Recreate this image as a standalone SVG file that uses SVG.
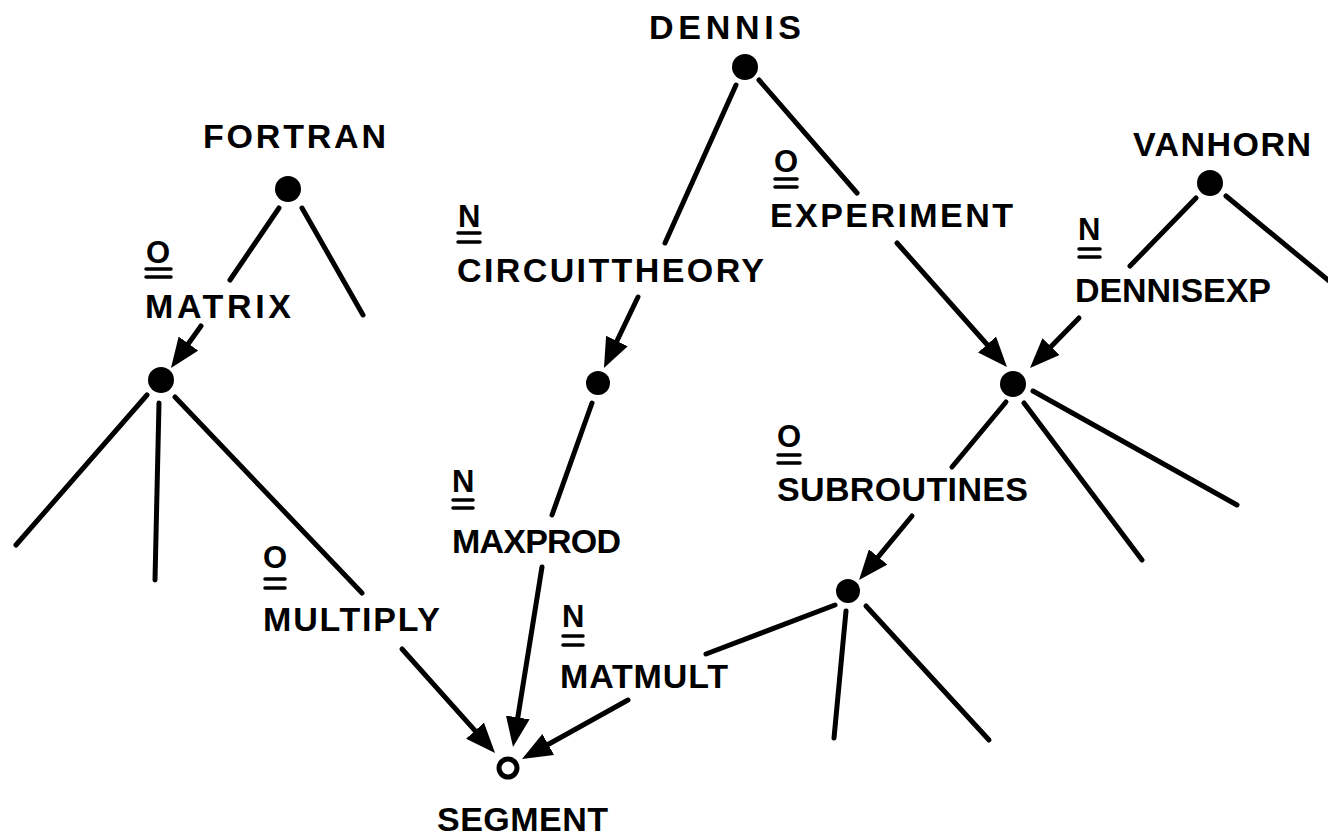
<svg xmlns="http://www.w3.org/2000/svg" width="1328" height="838" viewBox="0 0 1328 838">
<style>
.bg{fill:#ffffff}
.lbl{font-family:"Liberation Sans",Arial,sans-serif;font-weight:bold;font-size:34px;fill:#000}
.tag{font-family:"Liberation Sans",Arial,sans-serif;font-weight:bold;font-size:31px;fill:#000}
.dot{fill:#000}
.hollow{fill:none;stroke:#000;stroke-width:5}
.ln{stroke:#000;stroke-width:5;stroke-linecap:round;fill:none}
.arr{stroke:#000;stroke-width:5;stroke-linecap:round;fill:none;marker-end:url(#ah)}
.ul{stroke:#000;stroke-width:3.5;stroke-linecap:round}
</style>
<defs>
<marker id="ah" viewBox="0 0 30 24" refX="10" refY="12" markerWidth="30" markerHeight="24" markerUnits="userSpaceOnUse" orient="auto">
<path d="M0,0 L30,12 L0,24 z" fill="#000"/>
</marker>
</defs>
<rect class="bg" x="0" y="0" width="1328" height="838"/>

<g id="connectors">
<line class="ln" x1="736" y1="85" x2="665" y2="243"/>
<line class="ln" x1="759" y1="80" x2="857" y2="193"/>
<line class="ln" x1="279" y1="208" x2="230" y2="280"/>
<line class="ln" x1="302" y1="208" x2="363" y2="315"/>
<line class="ln" x1="1196" y1="198" x2="1130" y2="266"/>
<line class="ln" x1="1226" y1="196" x2="1340" y2="290"/>
<line class="ln" x1="147" y1="395" x2="16" y2="545"/>
<line class="ln" x1="159" y1="403" x2="155" y2="580"/>
<line class="ln" x1="175" y1="397" x2="362" y2="593"/>
<line class="ln" x1="592" y1="403" x2="552" y2="515"/>
<line class="ln" x1="1006" y1="402" x2="952" y2="467"/>
<line class="ln" x1="1024" y1="403" x2="1142" y2="560"/>
<line class="ln" x1="1033" y1="391" x2="1237" y2="505"/>
<line class="ln" x1="835" y1="605" x2="706" y2="654"/>
<line class="ln" x1="846" y1="611" x2="834" y2="738"/>
<line class="ln" x1="866" y1="606" x2="989" y2="740"/>
<line class="arr" x1="201" y1="326" x2="182.6" y2="351.7"/>
<line class="arr" x1="638" y1="297" x2="612.6" y2="350"/>
<line class="arr" x1="897" y1="243" x2="993.7" y2="352"/>
<line class="arr" x1="1079" y1="318" x2="1044" y2="353.7"/>
<line class="arr" x1="912" y1="516" x2="871.8" y2="564.6"/>
<line class="arr" x1="402" y1="649" x2="481.7" y2="738.1"/>
<line class="arr" x1="542" y1="567" x2="516.2" y2="727.3"/>
<line class="arr" x1="628" y1="700" x2="539.5" y2="749.3"/>
</g>

<g id="edge-labels">
<g id="lbl-matrix">
<text class="tag" x="146" y="263">O</text>
<line class="ul" x1="146" y1="269" x2="171" y2="269"/>
<line class="ul" x1="146" y1="277" x2="171" y2="277"/>
<text class="lbl" x="145" y="318" textLength="146" lengthAdjust="spacing">MATRIX</text>
</g>
<g id="lbl-circuittheory">
<text class="tag" x="458" y="227">N</text>
<line class="ul" x1="458" y1="233" x2="480" y2="233"/>
<line class="ul" x1="458" y1="242" x2="480" y2="242"/>
<text class="lbl" x="457" y="282" textLength="307" lengthAdjust="spacing">CIRCUITTHEORY</text>
</g>
<g id="lbl-experiment">
<text class="tag" x="774" y="172">O</text>
<line class="ul" x1="775" y1="179" x2="797" y2="179"/>
<line class="ul" x1="775" y1="187" x2="797" y2="187"/>
<text class="lbl" x="770" y="227" textLength="243" lengthAdjust="spacing">EXPERIMENT</text>
</g>
<g id="lbl-dennisexp">
<text class="tag" x="1078" y="240">N</text>
<line class="ul" x1="1079" y1="249" x2="1100" y2="249"/>
<line class="ul" x1="1079" y1="257" x2="1100" y2="257"/>
<text class="lbl" x="1075" y="302" textLength="196" lengthAdjust="spacing">DENNISEXP</text>
</g>
<g id="lbl-subroutines">
<text class="tag" x="777" y="447">O</text>
<line class="ul" x1="778" y1="455" x2="800" y2="455"/>
<line class="ul" x1="778" y1="463" x2="800" y2="463"/>
<text class="lbl" x="777" y="501" textLength="251" lengthAdjust="spacing">SUBROUTINES</text>
</g>
<g id="lbl-multiply">
<text class="tag" x="263" y="568">O</text>
<line class="ul" x1="265" y1="579" x2="285" y2="579"/>
<line class="ul" x1="265" y1="588" x2="285" y2="588"/>
<text class="lbl" x="263" y="631" textLength="177" lengthAdjust="spacing">MULTIPLY</text>
</g>
<g id="lbl-maxprod">
<text class="tag" x="452" y="492">N</text>
<line class="ul" x1="453" y1="500" x2="473" y2="500"/>
<line class="ul" x1="453" y1="508" x2="473" y2="508"/>
<text class="lbl" x="452" y="553" textLength="169" lengthAdjust="spacing">MAXPROD</text>
</g>
<g id="lbl-matmult">
<text class="tag" x="562" y="627">N</text>
<line class="ul" x1="563" y1="636" x2="583" y2="636"/>
<line class="ul" x1="563" y1="645" x2="583" y2="645"/>
<text class="lbl" x="560" y="688" textLength="168" lengthAdjust="spacing">MATMULT</text>
</g>
</g>

<g id="node-dennis">
<circle class="dot" cx="745" cy="67" r="13"/>
<text class="lbl" x="649" y="39" textLength="152" lengthAdjust="spacing">DENNIS</text>
</g>
<g id="node-fortran">
<circle class="dot" cx="288" cy="189" r="13"/>
<text class="lbl" x="203" y="148" textLength="183" lengthAdjust="spacing">FORTRAN</text>
</g>
<g id="node-vanhorn">
<circle class="dot" cx="1210" cy="183" r="13"/>
<text class="lbl" x="1133" y="156" textLength="178" lengthAdjust="spacing">VANHORN</text>
</g>
<g id="node-matrix">
<circle class="dot" cx="161" cy="380" r="13"/>
</g>
<g id="node-circuittheory">
<circle class="dot" cx="598" cy="383" r="12"/>
</g>
<g id="node-experiment">
<circle class="dot" cx="1013" cy="384" r="13"/>
</g>
<g id="node-subroutines">
<circle class="dot" cx="848" cy="591" r="12"/>
</g>
<g id="node-segment">
<circle class="hollow" cx="508" cy="768" r="9"/>
<text class="lbl" x="437" y="831" textLength="171" lengthAdjust="spacing">SEGMENT</text>
</g>
</svg>
